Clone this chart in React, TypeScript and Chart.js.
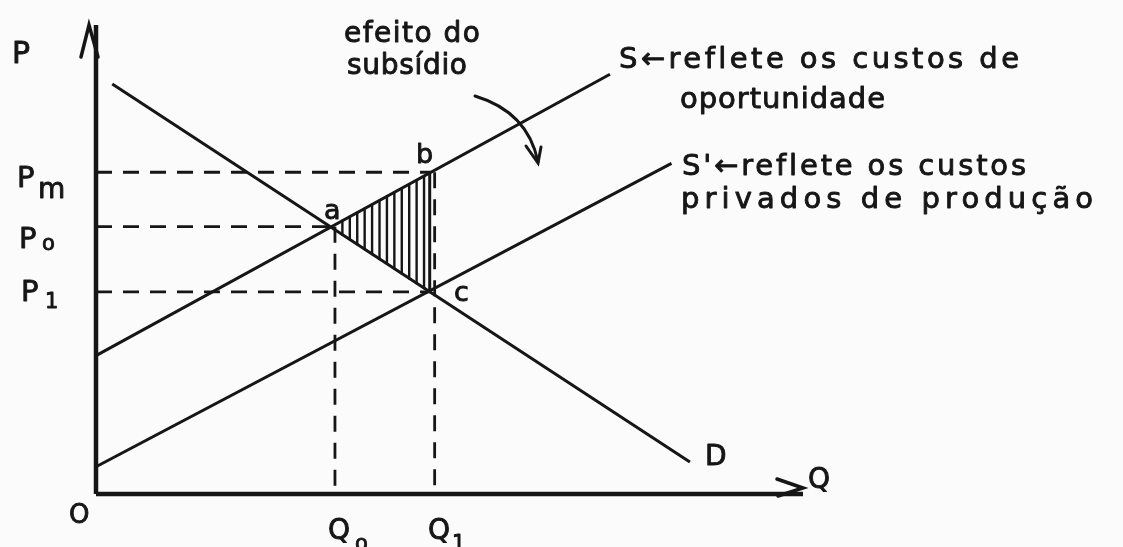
import React, { useEffect, useRef } from 'react';
import { Chart, registerables } from 'chart.js';

Chart.register(...registerables);

// ---- data (quantity on x, price on y, arbitrary units 0..100) ----
const demandQ = [2.3, 84.0];
const demandP = [87.4, 6.8];
const supplyQ = [0, 72.7];            // S: opportunity costs
const supplyP = [29.5, 89.5];
const privSupplyQ = [0, 81.4];        // S': private production costs
const privSupplyP = [5.8, 70.5];
const priceLevels = [68.6, 57.0, 43.1];   // Pm, Po, P1
const quantityLevels = [33.8, 47.4];      // Q0, Q1
const axisMax = 100;

// tick labels (main letter + subscript)
const priceTickMain = ['P', 'P', 'P'];
const priceTickSub = ['m', 'o', '1'];
const quantityTickMain = ['Q', 'Q'];
const quantityTickSub = ['o', '1'];

const FONT = '"DejaVu Sans", "Liberation Sans", sans-serif';
const INK = '#161616';

function interp(qs: number[], ps: number[], q: number) {
  const t = (q - qs[0]) / (qs[1] - qs[0]);
  return ps[0] + t * (ps[1] - ps[0]);
}

function drawText(ctx: CanvasRenderingContext2D, text: string, x: number, y: number, size: number, width?: number) {
  ctx.save();
  ctx.font = `${size}px ${FONT}`;
  ctx.fillStyle = INK;
  ctx.strokeStyle = INK;
  ctx.lineWidth = 0.9;
  ctx.lineJoin = 'round';
  ctx.textBaseline = 'alphabetic';
  ctx.textAlign = 'left';
  (ctx as any).letterSpacing = '0px';
  if (width && text.length > 1) {
    const w = ctx.measureText(text).width;
    const sp = (width - w) / (text.length - 1);
    (ctx as any).letterSpacing = `${sp.toFixed(2)}px`;
  }
  ctx.fillText(text, x, y);
  ctx.strokeText(text, x, y);
  ctx.restore();
}

const annotPlugin = {
  id: 'annot',
  beforeDraw(chart: any) {
    const ctx = chart.ctx;
    ctx.save();
    ctx.fillStyle = '#fbfbfb';
    ctx.fillRect(0, 0, chart.width, chart.height);
    ctx.restore();
  },
  afterDatasetsDraw(chart: any) {
    const ctx: CanvasRenderingContext2D = chart.ctx;
    const xs = chart.scales.x;
    const ys = chart.scales.y;
    const X = (v: number) => xs.getPixelForValue(v);
    const Y = (v: number) => ys.getPixelForValue(v);
    ctx.save();
    ctx.strokeStyle = INK;
    ctx.lineCap = 'round';

    // hatching inside triangle a-b-c
    ctx.lineWidth = 2.4;
    const step = 1.05;
    for (let q = quantityLevels[0] + step; q < quantityLevels[1] - 0.3; q += step) {
      const top = interp(supplyQ, supplyP, q);
      const bot = interp(demandQ, demandP, q);
      ctx.beginPath();
      ctx.moveTo(X(q), Y(top));
      ctx.lineTo(X(q), Y(bot));
      ctx.stroke();
    }

    // axis arrowheads
    ctx.lineWidth = 3.5;
    const ty = { x: X(0) - 7, y: Y(axisMax) };
    ctx.beginPath();
    ctx.moveTo(ty.x - 8, ty.y + 32);
    ctx.lineTo(ty.x, ty.y);
    ctx.lineTo(ty.x + 9, ty.y + 32);
    ctx.stroke();
    const tx = { x: X(axisMax), y: Y(0) - 6 };
    ctx.beginPath();
    ctx.moveTo(tx.x - 26, tx.y - 9);
    ctx.lineTo(tx.x, tx.y);
    ctx.lineTo(tx.x - 25, tx.y + 8);
    ctx.stroke();

    // curved arrow for "efeito do subsídio"
    ctx.lineWidth = 3;
    ctx.beginPath();
    ctx.moveTo(475, 96);
    ctx.quadraticCurveTo(528, 112, 538, 162);
    ctx.stroke();
    ctx.beginPath();
    ctx.moveTo(526, 146);
    ctx.lineTo(538, 163);
    ctx.lineTo(541, 147);
    ctx.stroke();
    ctx.restore();
  },
  afterDraw(chart: any) {
    const ctx: CanvasRenderingContext2D = chart.ctx;
    // axis titles
    drawText(ctx, 'P', 12, 63, 30);
    drawText(ctx, 'O', 69, 523, 26);
    drawText(ctx, 'Q', 808, 488, 28);
    // price ticks
    const pMain = [[17, 187], [19, 248], [21, 301]];
    const pSub = [[38, 198], [42, 250], [45, 308]];
    for (let i = 0; i < priceTickMain.length; i++) {
      drawText(ctx, priceTickMain[i], pMain[i][0], pMain[i][1], 29);
      drawText(ctx, priceTickSub[i], pSub[i][0], pSub[i][1], i === 0 ? 28 : 21);
    }
    // quantity ticks
    const qMain = [[328, 539], [428, 539]];
    const qSub = [[355, 550], [452, 550]];
    for (let i = 0; i < quantityTickMain.length; i++) {
      drawText(ctx, quantityTickMain[i], qMain[i][0], qMain[i][1], 28);
      drawText(ctx, quantityTickSub[i], qSub[i][0], qSub[i][1], 21);
    }
    // point labels
    drawText(ctx, 'a', 324, 219, 27);
    drawText(ctx, 'b', 416, 163, 27);
    drawText(ctx, 'c', 454, 301, 27);
    drawText(ctx, 'D', 705, 465, 28);
    // annotations
    drawText(ctx, 'efeito do', 344, 42, 28, 136);
    drawText(ctx, 'subsídio', 347, 74, 28, 120);
    drawText(ctx, 'S←reflete os custos de', 619, 68, 29, 400);
    drawText(ctx, 'oportunidade', 680, 108, 29, 205);
    drawText(ctx, "S'←reflete os custos", 682, 175, 29, 344);
    drawText(ctx, 'privados de produção', 681, 208, 29, 412);
  },
};

function line(q: number[], p: number[], width: number, dash: number[] = []) {
  return {
    data: q.map((v, i) => ({ x: v, y: p[i] })),
    showLine: true,
    borderColor: INK,
    backgroundColor: INK,
    borderWidth: width,
    borderDash: dash,
    pointRadius: 0,
    fill: false,
    tension: 0,
    clip: false as any,
    borderCapStyle: 'butt' as any,
  };
}

export default function App() {
  const ref = useRef<HTMLCanvasElement | null>(null);
  useEffect(() => {
    if (!ref.current) return;
    const [Pm, Po, P1] = priceLevels;
    const [Q0, Q1] = quantityLevels;
    const dash = [16, 11];
    const chart = new Chart(ref.current, {
      type: 'scatter',
      data: {
        datasets: [
          line([0, 0], [0, axisMax], 4.5),
          line([0, axisMax], [0, 0], 4.5),
          line(demandQ, demandP, 3),
          line(supplyQ, supplyP, 3),
          line(privSupplyQ, privSupplyP, 3),
          line([0, Q1], [Pm, Pm], 2.8, dash),
          line([0, Q0], [Po, Po], 2.8, dash),
          line([0, Q1], [P1, P1], 2.8, dash),
          line([Q0, Q0], [Po, 0], 2.8, dash),
          line([Q1 + 0.5, Q1 + 0.5], [Pm, 0], 2.8, dash),
          line([Q1 - 0.2, Q1 - 0.2], [Pm, P1], 3),
        ] as any,
      },
      options: {
        animation: false,
        responsive: false,
        maintainAspectRatio: false,
        layout: { padding: { left: 96, right: 320, top: 25, bottom: 53 } },
        scales: {
          x: { type: 'linear', min: 0, max: axisMax, display: false },
          y: { type: 'linear', min: 0, max: axisMax, display: false },
        },
        plugins: { legend: { display: false }, tooltip: { enabled: false } },
      },
      plugins: [annotPlugin],
    });
    return () => chart.destroy();
  }, []);
  return (
    <div style={{ position: 'absolute', left: 0, top: 0, width: 1123, height: 547 }}>
      <canvas ref={ref} width={1123} height={547} />
    </div>
  );
}
